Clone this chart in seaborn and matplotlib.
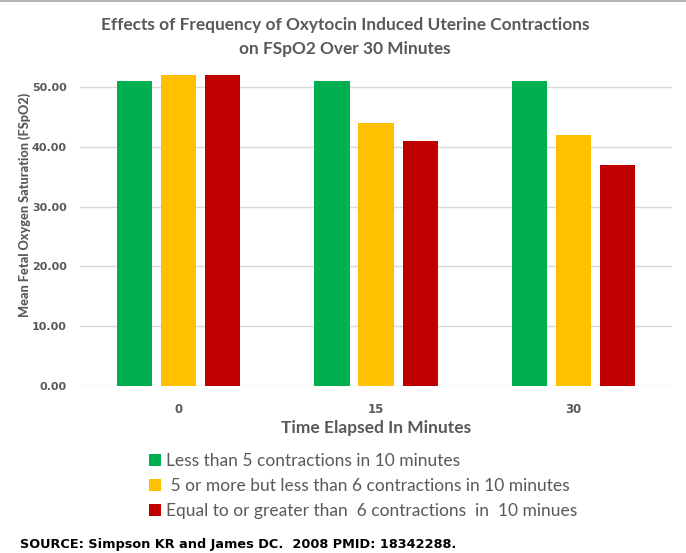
import matplotlib
matplotlib.use("Agg")
import matplotlib.pyplot as plt
import seaborn as sns
import pandas as pd
from matplotlib.patches import Patch
from matplotlib.lines import Line2D

categories = ["0", "15", "30"]
series_names = [
    "Less than 5 contractions in 10 minutes",
    " 5 or more but less than 6 contractions in 10 minutes",
    "Equal to or greater than  6 contractions  in  10 minues",
]
less_than_5 = [51, 51, 51]
five_to_six = [52, 44, 42]
six_or_more = [52, 41, 37]
colors = ["#00B050", "#FFC000", "#C00000"]
yticks = [0, 10, 20, 30, 40, 50]

rows = []
for name, vals in zip(series_names, [less_than_5, five_to_six, six_or_more]):
    for c, v in zip(categories, vals):
        rows.append({"time": c, "value": v, "group": name})
df = pd.DataFrame(rows)

sns.set_theme(style="white")
gray = "#595959"
fig = plt.figure(figsize=(6.86, 5.53), dpi=100)
ax = fig.add_axes([0.1166, 0.302, 0.8634, 0.573])

sns.barplot(data=df, x="time", y="value", hue="group", order=categories,
            hue_order=series_names, palette=colors, width=0.67, gap=0.2,
            saturation=1, linewidth=0, edgecolor="none", ax=ax, legend=False)

ax.set_ylim(0, 53)
ax.set_xlim(-0.5, 2.5)
ax.set_yticks(yticks)
ax.set_yticklabels([f"{t:.2f}" for t in yticks], fontsize=8, fontweight="bold",
                   color=gray, family="DejaVu Sans")
ax.set_xticks(range(len(categories)))
ax.set_xticklabels(categories, fontsize=8.5, fontweight="bold", color=gray,
                   family="DejaVu Sans")
ax.tick_params(axis="y", length=0, pad=9.5)
ax.tick_params(axis="x", length=0, pad=12)
ax.yaxis.grid(True, color="#D9D9D9", linewidth=1)
ax.set_axisbelow(True)
for s in ax.spines.values():
    s.set_visible(False)

ax.set_xlabel("Time Elapsed In Minutes", fontsize=12.5, fontweight="bold",
              color=gray, family="Lato", labelpad=3)
ax.set_ylabel("Mean Fetal Oxygen Saturation (FSpO2)", fontsize=9.2,
              fontweight="black", color=gray, family="Lato")
ax.yaxis.set_label_coords(-0.083, 0.571)

fig.text(0.503, 0.955, "Effects of Frequency of Oxytocin Induced Uterine Contractions",
         ha="center", va="center", fontsize=12.4, fontweight="bold", color=gray,
         family="Lato")
fig.text(0.503, 0.912, "on FSpO2 Over 30 Minutes", ha="center", va="center",
         fontsize=12.4, fontweight="bold", color=gray, family="Lato")

handles = [Patch(facecolor=c, edgecolor="none") for c in colors]
leg = fig.legend(handles, series_names, loc="upper left",
                 bbox_to_anchor=(0.217, 0.180), frameon=False,
                 prop={"family": "Lato", "size": 12.5},
                 handlelength=0.7, handleheight=0.7, handletextpad=0.3,
                 labelspacing=0.5, borderaxespad=0, borderpad=0)
for t in leg.get_texts():
    t.set_color(gray)

fig.text(0.029, 0.009, "SOURCE: Simpson KR and James DC.  2008 PMID: 18342288.",
         ha="left", va="baseline", fontsize=9.3, fontweight="bold", color="black",
         family="DejaVu Sans")

fig.add_artist(Line2D([0, 1], [0.999, 0.999], transform=fig.transFigure,
                      color="#A6A6A6", linewidth=1.2))

fig.savefig("out.png", dpi=100)
